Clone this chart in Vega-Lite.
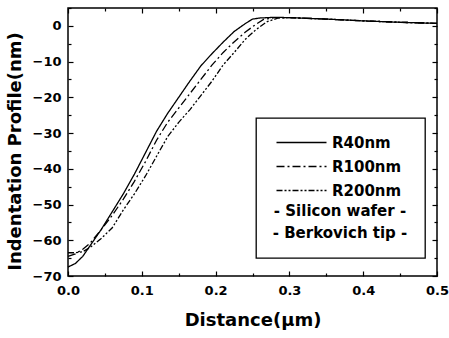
{
  "$schema": "https://vega.github.io/schema/vega-lite/v6.json",
  "width": 369,
  "height": 268,
  "autosize": {"type": "none"},
  "padding": {"left": 68, "top": 8, "right": 12, "bottom": 62},
  "background": "white",
  "config": {
    "view": {"stroke": "black", "strokeWidth": 1.5},
    "font": "DejaVu Sans",
    "legend": {"strokeWidth": 1.3},
    "axis": {
      "domain": false, "grid": false, "tickColor": "black", "tickWidth": 1.2,
      "labelFont": "DejaVu Sans", "labelFontWeight": "bold", "labelFontSize": 13, "labelColor": "black",
      "titleFont": "DejaVu Sans", "titleFontWeight": "bold", "titleFontSize": 18, "titleColor": "black"
    }
  },
  "datasets": {
    "profiles": [
      {"distance": 0.0, "depth": -67.5, "tip": "R40nm"},
      {"distance": 0.01, "depth": -66.5, "tip": "R40nm"},
      {"distance": 0.02, "depth": -64.5, "tip": "R40nm"},
      {"distance": 0.03, "depth": -61.5, "tip": "R40nm"},
      {"distance": 0.045, "depth": -57, "tip": "R40nm"},
      {"distance": 0.06, "depth": -52, "tip": "R40nm"},
      {"distance": 0.075, "depth": -47, "tip": "R40nm"},
      {"distance": 0.09, "depth": -41.5, "tip": "R40nm"},
      {"distance": 0.105, "depth": -35.5, "tip": "R40nm"},
      {"distance": 0.12, "depth": -29.5, "tip": "R40nm"},
      {"distance": 0.135, "depth": -24.5, "tip": "R40nm"},
      {"distance": 0.15, "depth": -20, "tip": "R40nm"},
      {"distance": 0.165, "depth": -15.5, "tip": "R40nm"},
      {"distance": 0.18, "depth": -11.2, "tip": "R40nm"},
      {"distance": 0.195, "depth": -7.8, "tip": "R40nm"},
      {"distance": 0.21, "depth": -4.6, "tip": "R40nm"},
      {"distance": 0.225, "depth": -1.6, "tip": "R40nm"},
      {"distance": 0.24, "depth": 0.6, "tip": "R40nm"},
      {"distance": 0.25, "depth": 1.9, "tip": "R40nm"},
      {"distance": 0.26, "depth": 2.2, "tip": "R40nm"},
      {"distance": 0.28, "depth": 2.4, "tip": "R40nm"},
      {"distance": 0.3, "depth": 2.3, "tip": "R40nm"},
      {"distance": 0.35, "depth": 1.9, "tip": "R40nm"},
      {"distance": 0.4, "depth": 1.4, "tip": "R40nm"},
      {"distance": 0.45, "depth": 1.0, "tip": "R40nm"},
      {"distance": 0.5, "depth": 0.7, "tip": "R40nm"},
      {"distance": 0.0, "depth": -64.5, "tip": "R100nm"},
      {"distance": 0.01, "depth": -63.8, "tip": "R100nm"},
      {"distance": 0.02, "depth": -62.5, "tip": "R100nm"},
      {"distance": 0.03, "depth": -60.8, "tip": "R100nm"},
      {"distance": 0.045, "depth": -57, "tip": "R100nm"},
      {"distance": 0.06, "depth": -53, "tip": "R100nm"},
      {"distance": 0.075, "depth": -48.5, "tip": "R100nm"},
      {"distance": 0.09, "depth": -43.5, "tip": "R100nm"},
      {"distance": 0.105, "depth": -38, "tip": "R100nm"},
      {"distance": 0.12, "depth": -32, "tip": "R100nm"},
      {"distance": 0.135, "depth": -27, "tip": "R100nm"},
      {"distance": 0.15, "depth": -23, "tip": "R100nm"},
      {"distance": 0.165, "depth": -19, "tip": "R100nm"},
      {"distance": 0.18, "depth": -15, "tip": "R100nm"},
      {"distance": 0.195, "depth": -11, "tip": "R100nm"},
      {"distance": 0.21, "depth": -7.5, "tip": "R100nm"},
      {"distance": 0.225, "depth": -4.5, "tip": "R100nm"},
      {"distance": 0.24, "depth": -1.8, "tip": "R100nm"},
      {"distance": 0.255, "depth": 0.5, "tip": "R100nm"},
      {"distance": 0.265, "depth": 1.8, "tip": "R100nm"},
      {"distance": 0.28, "depth": 2.3, "tip": "R100nm"},
      {"distance": 0.3, "depth": 2.3, "tip": "R100nm"},
      {"distance": 0.35, "depth": 1.9, "tip": "R100nm"},
      {"distance": 0.4, "depth": 1.4, "tip": "R100nm"},
      {"distance": 0.45, "depth": 1.0, "tip": "R100nm"},
      {"distance": 0.5, "depth": 0.7, "tip": "R100nm"},
      {"distance": 0.0, "depth": -63.5, "tip": "R200nm"},
      {"distance": 0.01, "depth": -63.5, "tip": "R200nm"},
      {"distance": 0.02, "depth": -63.2, "tip": "R200nm"},
      {"distance": 0.03, "depth": -62, "tip": "R200nm"},
      {"distance": 0.045, "depth": -59.5, "tip": "R200nm"},
      {"distance": 0.06, "depth": -56.5, "tip": "R200nm"},
      {"distance": 0.075, "depth": -51.5, "tip": "R200nm"},
      {"distance": 0.09, "depth": -47, "tip": "R200nm"},
      {"distance": 0.105, "depth": -42, "tip": "R200nm"},
      {"distance": 0.12, "depth": -36.5, "tip": "R200nm"},
      {"distance": 0.135, "depth": -31, "tip": "R200nm"},
      {"distance": 0.15, "depth": -27, "tip": "R200nm"},
      {"distance": 0.165, "depth": -23.5, "tip": "R200nm"},
      {"distance": 0.18, "depth": -19.5, "tip": "R200nm"},
      {"distance": 0.195, "depth": -15.5, "tip": "R200nm"},
      {"distance": 0.21, "depth": -11, "tip": "R200nm"},
      {"distance": 0.225, "depth": -7.5, "tip": "R200nm"},
      {"distance": 0.24, "depth": -3.8, "tip": "R200nm"},
      {"distance": 0.255, "depth": -1.0, "tip": "R200nm"},
      {"distance": 0.27, "depth": 1.2, "tip": "R200nm"},
      {"distance": 0.285, "depth": 2.2, "tip": "R200nm"},
      {"distance": 0.3, "depth": 2.3, "tip": "R200nm"},
      {"distance": 0.35, "depth": 1.9, "tip": "R200nm"},
      {"distance": 0.4, "depth": 1.4, "tip": "R200nm"},
      {"distance": 0.45, "depth": 1.0, "tip": "R200nm"},
      {"distance": 0.5, "depth": 0.7, "tip": "R200nm"}
    ]
  },
  "layer": [
    {
      "data": {"name": "profiles"},
      "mark": {"type": "line", "color": "black", "strokeWidth": 1.3},
      "encoding": {
        "x": {
          "field": "distance", "type": "quantitative",
          "scale": {"domain": [0, 0.5], "nice": false},
          "axis": {"orient": "bottom", "values": [0, 0.1, 0.2, 0.3, 0.4, 0.5], "format": ".1f",
                   "title": "Distance(μm)", "tickSize": -5, "labelPadding": 13, "titlePadding": 14, "labelFlush": false}
        },
        "y": {
          "field": "depth", "type": "quantitative",
          "scale": {"domain": [-70, 5], "nice": false, "zero": false},
          "axis": {"orient": "left", "values": [-70, -60, -50, -40, -30, -20, -10, 0],
                   "title": "Indentation Profile(nm)", "tickSize": -5, "labelPadding": 12, "titlePadding": 8, "titleY": 143}
        },
        "strokeDash": {
          "field": "tip", "type": "nominal",
          "scale": {"domain": ["R40nm", "R100nm", "R200nm"], "range": [[1, 0], [8, 3, 2, 3], [6, 2, 2, 2, 2, 2]]},
          "legend": {
            "orient": "none", "legendX": 188, "legendY": 110,
            "title": ["- Silicon wafer -", "- Berkovich tip -"],
            "titleOrient": "bottom", "titleAnchor": "middle", "titleAlign": "center",
            "titleFont": "DejaVu Sans", "titleFontWeight": "bold", "titleFontSize": 15, "titleColor": "black",
            "titleLineHeight": 22, "titlePadding": 5,
            "labelFont": "DejaVu Sans", "labelFontWeight": "bold", "labelFontSize": 15, "labelColor": "black",
            "labelOffset": 38,
            "symbolType": "M-2,0H8", "symbolSize": 100, "symbolStrokeColor": "black", "symbolStrokeWidth": 1.3,
            "symbolFillColor": "transparent",
            "rowPadding": 8,
            "padding": 17, "strokeColor": "black", "fillColor": "white"
          }
        }
      }
    },
    {
      "data": {"name": "profiles"},
      "mark": {"type": "point", "opacity": 0},
      "encoding": {
        "x": {"field": "distance", "type": "quantitative",
              "axis": {"orient": "top", "values": [0, 0.1, 0.2, 0.3, 0.4, 0.5], "labels": false, "title": null, "tickSize": -5}},
        "y": {"field": "depth", "type": "quantitative",
              "axis": {"orient": "right", "values": [-70, -60, -50, -40, -30, -20, -10, 0], "labels": false, "title": null, "tickSize": -5}}
      }
    },
    {
      "data": {"name": "profiles"},
      "mark": {"type": "point", "opacity": 0},
      "encoding": {
        "x": {"field": "distance", "type": "quantitative",
              "axis": {"orient": "bottom", "values": [0.05, 0.15, 0.25, 0.35, 0.45], "labels": false, "title": null, "tickSize": -3}},
        "y": {"field": "depth", "type": "quantitative",
              "axis": {"orient": "left", "values": [-65, -55, -45, -35, -25, -15, -5, 5], "labels": false, "title": null, "tickSize": -3}}
      }
    },
    {
      "data": {"name": "profiles"},
      "mark": {"type": "point", "opacity": 0},
      "encoding": {
        "x": {"field": "distance", "type": "quantitative",
              "axis": {"orient": "top", "values": [0.05, 0.15, 0.25, 0.35, 0.45], "labels": false, "title": null, "tickSize": -3}},
        "y": {"field": "depth", "type": "quantitative",
              "axis": {"orient": "right", "values": [-65, -55, -45, -35, -25, -15, -5, 5], "labels": false, "title": null, "tickSize": -3}}
      }
    }
  ],
  "resolve": {"axis": {"x": "independent", "y": "independent"}}
}
